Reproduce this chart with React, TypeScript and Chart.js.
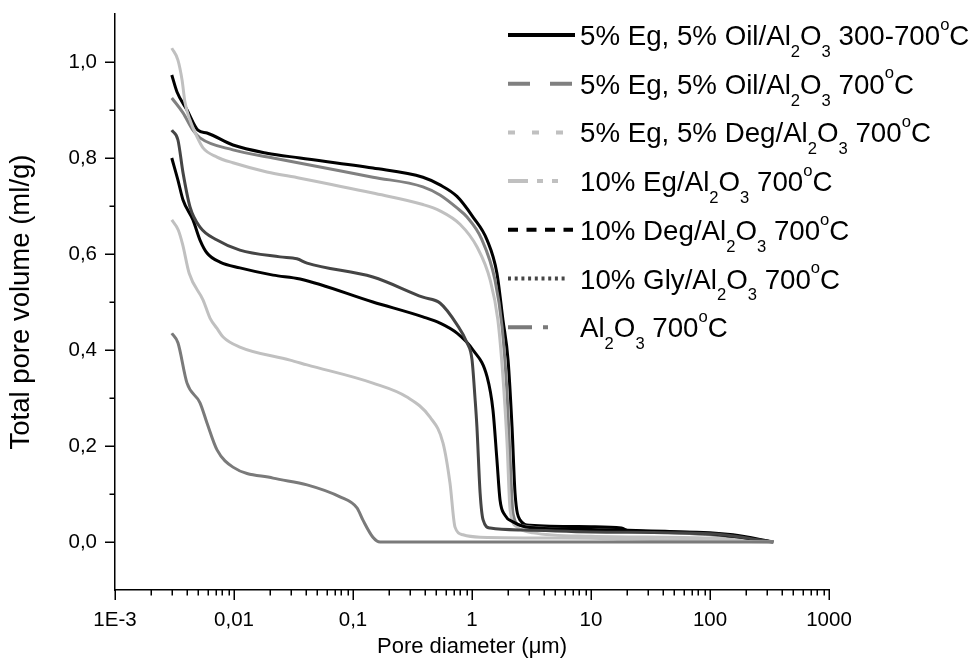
import React, { useEffect, useRef } from "react";
import { Chart, registerables } from "chart.js";

Chart.register(...registerables);

// ---- data (pore diameter in µm, total pore volume in ml/g) ----
const oil300X = [0.003, 0.00332, 0.00403, 0.00498, 0.00593, 0.0098, 0.0189, 0.0359, 0.147, 0.387, 0.538, 0.748, 1.02, 1.34, 1.62, 1.82, 2.01, 2.17, 2.3, 2.53, 3.07, 10, 18, 21, 60, 156, 340];
const oil300Y = [0.973, 0.9375, 0.9, 0.858, 0.852, 0.827, 0.81, 0.8, 0.779, 0.76, 0.744, 0.72, 0.677, 0.629, 0.56, 0.4625, 0.379, 0.24, 0.102, 0.046, 0.035, 0.032, 0.029, 0.023, 0.021, 0.015, 0.0];

const oil700X = [0.003, 0.00373, 0.00452, 0.00518, 0.0098, 0.0213, 0.147, 0.387, 0.538, 0.748, 0.908, 1.2, 1.56, 1.79, 1.97, 2.09, 2.21, 2.53, 10, 100, 340];
const oil700Y = [0.925, 0.894, 0.858, 0.842, 0.817, 0.8, 0.76, 0.74, 0.723, 0.696, 0.677, 0.632, 0.546, 0.448, 0.31, 0.171, 0.06, 0.035, 0.025, 0.015, 0.0];

const degEgX = [0.003, 0.00338, 0.00366, 0.00388, 0.00427, 0.00489, 0.00549, 0.0072, 0.0098, 0.0189, 0.0359, 0.147, 0.387, 0.538, 0.793, 1.1, 1.42, 1.65, 1.82, 1.97, 2.09, 2.39, 3.26, 10, 100, 340];
const degEgY = [1.029, 1.004, 0.9625, 0.915, 0.879, 0.844, 0.821, 0.802, 0.79, 0.771, 0.758, 0.727, 0.703, 0.69, 0.662, 0.615, 0.546, 0.4625, 0.344, 0.206, 0.067, 0.031, 0.019, 0.012, 0.008, 0.0];

const eg10X = [0.003, 0.0034, 0.0037, 0.0042, 0.0055, 0.0063, 0.0072, 0.0081, 0.0112, 0.0296, 0.0411, 0.147, 0.284, 0.444, 0.571, 0.653, 0.72, 0.84, 1.17, 10, 20, 340];
const eg10Y = [0.671, 0.65, 0.62, 0.56, 0.504, 0.466, 0.445, 0.427, 0.406, 0.379, 0.369, 0.331, 0.302, 0.26, 0.206, 0.123, 0.031, 0.015, 0.01, 0.008, 0.006, 0.0];

const deg10X = [0.003, 0.00338, 0.00373, 0.00452, 0.00518, 0.00593, 0.00763, 0.0112, 0.0213, 0.0359, 0.147, 0.387, 0.538, 0.748, 1.02, 1.34, 1.5, 1.62, 1.72, 1.89, 2.21, 3.07, 10, 100, 340];
const deg10Y = [0.8, 0.754, 0.7125, 0.671, 0.629, 0.602, 0.583, 0.571, 0.556, 0.548, 0.5, 0.469, 0.456, 0.435, 0.4, 0.344, 0.275, 0.171, 0.0875, 0.056, 0.042, 0.03, 0.026, 0.017, 0.0];

const gly10X = [0.003, 0.00338, 0.00373, 0.00427, 0.00518, 0.0072, 0.0112, 0.0244, 0.0338, 0.0411, 0.147, 0.387, 0.538, 0.748, 0.908, 1.0, 1.06, 1.1, 1.17, 1.24, 1.42, 2.7, 10, 100, 340];
const gly10Y = [0.858, 0.8375, 0.769, 0.698, 0.656, 0.629, 0.608, 0.594, 0.59, 0.581, 0.552, 0.51, 0.498, 0.453, 0.415, 0.38, 0.3, 0.24, 0.102, 0.046, 0.029, 0.025, 0.021, 0.017, 0.0];

const aluX = [0.003, 0.00338, 0.00403, 0.00518, 0.00593, 0.0072, 0.0098, 0.0213, 0.0411, 0.0778, 0.108, 0.121, 0.147, 0.169, 340];
const aluY = [0.435, 0.415, 0.331, 0.29, 0.248, 0.192, 0.156, 0.133, 0.119, 0.094, 0.071, 0.046, 0.01, 0.0, 0.0];

const seriesLabels = [
  "5% Eg, 5% Oil/Al_2O_3 300-700^oC",
  "5% Eg, 5% Oil/Al_2O_3 700^oC",
  "5% Eg, 5% Deg/Al_2O_3 700^oC",
  "10% Eg/Al_2O_3 700^oC",
  "10% Deg/Al_2O_3 700^oC",
  "10% Gly/Al_2O_3 700^oC",
  "Al_2O_3 700^oC",
];
const seriesX = [oil300X, oil700X, degEgX, eg10X, deg10X, gly10X, aluX];
const seriesY = [oil300Y, oil700Y, degEgY, eg10Y, deg10Y, gly10Y, aluY];

const xTickValues = [0.001, 0.01, 0.1, 1, 10, 100, 1000];
const xTickLabels = ["1E-3", "0,01", "0,1", "1", "10", "100", "1000"];
const yTickValues = [0, 0.2, 0.4, 0.6, 0.8, 1.0];
const yTickLabels = ["0,0", "0,2", "0,4", "0,6", "0,8", "1,0"];
const yMinorValues = [0.1, 0.3, 0.5, 0.7, 0.9];

// ---- styles ----
const colors = ["#000000", "#808080", "#c0c0c0", "#c0c0c0", "#000000", "#454545", "#7a7a7a"];
const legendDash: number[][] = [[], [22, 20], [7, 17], [20, 9, 6, 9], [10, 8.5], [3, 3.7], [24, 11, 6, 50]];
const legendLen = [67, 64, 56, 50, 65, 60, 40];
const FONT = '"Liberation Sans", Arial, sans-serif';

function drawRich(ctx: CanvasRenderingContext2D, text: string, x: number, y: number, size: number) {
  let cx = x;
  let i = 0;
  while (i < text.length) {
    let mode = "n";
    let ch = text[i];
    if (ch === "_" || ch === "^") {
      mode = ch === "_" ? "sub" : "sup";
      ch = text[i + 1];
      i += 2;
    } else {
      let j = i;
      while (j < text.length && text[j] !== "_" && text[j] !== "^") j++;
      ch = text.slice(i, j);
      i = j;
    }
    const fs = mode === "n" ? size : size * 0.6;
    ctx.font = `${fs}px ${FONT}`;
    const dy = mode === "sub" ? size * 0.43 : mode === "sup" ? -size * 0.55 : 0;
    ctx.fillText(ch, cx, y + dy);
    cx += ctx.measureText(ch).width;
  }
}

const originPlugin = {
  id: "originDecor",
  afterDraw(chart: any) {
    const { ctx, chartArea } = chart;
    const xs = chart.scales.x;
    const ys = chart.scales.y;
    ctx.save();
    ctx.strokeStyle = "#000";
    ctx.lineWidth = 1.5;
    ctx.beginPath();
    for (let d = 0; d < xTickValues.length; d++) {
      const v = xTickValues[d];
      const px = Math.round(xs.getPixelForValue(v)) + 0.25;
      ctx.moveTo(px, chartArea.bottom);
      ctx.lineTo(px, chartArea.bottom + 10);
      if (d < xTickValues.length - 1) {
        for (let k = 2; k <= 9; k++) {
          const mp = Math.round(xs.getPixelForValue(v * k)) + 0.25;
          ctx.moveTo(mp, chartArea.bottom);
          ctx.lineTo(mp, chartArea.bottom + 5.5);
        }
      }
    }
    yTickValues.forEach((v) => {
      const py = Math.round(ys.getPixelForValue(v)) + 0.25;
      ctx.moveTo(chartArea.left, py);
      ctx.lineTo(chartArea.left - 10, py);
    });
    yMinorValues.forEach((v) => {
      const py = Math.round(ys.getPixelForValue(v)) + 0.25;
      ctx.moveTo(chartArea.left, py);
      ctx.lineTo(chartArea.left - 5.5, py);
    });
    ctx.stroke();

    // legend
    const lx = 508;
    const ly0 = 35;
    const step = 48.7;
    seriesLabels.forEach((lab, i) => {
      const y = ly0 + i * step;
      ctx.beginPath();
      ctx.setLineDash(legendDash[i]);
      ctx.lineWidth = 4;
      ctx.strokeStyle = colors[i];
      ctx.lineCap = "butt";
      ctx.moveTo(lx, y);
      ctx.lineTo(lx + legendLen[i], y);
      ctx.stroke();
      ctx.setLineDash([]);
      ctx.fillStyle = "#000";
      ctx.textBaseline = "alphabetic";
      ctx.textAlign = "left";
      drawRich(ctx, lab, 580, y + 10, 27.7);
    });
    ctx.restore();
  },
};

export default function App() {
  const ref = useRef<HTMLCanvasElement | null>(null);
  useEffect(() => {
    document.body.style.margin = "0";
    if (!ref.current) return;
    const datasets = seriesLabels.map((lab, i) => ({
      label: lab,
      data: seriesX[i].map((xv, j) => ({ x: xv, y: seriesY[i][j] })),
      borderColor: colors[i],
      backgroundColor: colors[i],
      borderWidth: 3,
      pointRadius: 0,
      fill: false,
      cubicInterpolationMode: "monotone" as const,
    }));
    const order = [6, 3, 5, 4, 2, 1, 0];
    const chart = new Chart(ref.current, {
      type: "line",
      data: { datasets: order.map((k) => datasets[k]) },
      options: {
        animation: false,
        responsive: false,
        layout: { autoPadding: false, padding: { left: 0, top: 14, right: 142, bottom: 0 } },
        plugins: { legend: { display: false }, tooltip: { enabled: false } },
        scales: {
          x: {
            type: "logarithmic",
            min: 0.001,
            max: 1000,
            afterFit: (s: any) => {
              s.height = 76;
              s.paddingLeft = 0;
              s.paddingRight = 0;
            },
            afterBuildTicks: (s: any) => {
              s.ticks = xTickValues.map((v) => ({ value: v, major: true }));
            },
            grid: { display: false, drawTicks: false },
            border: { display: true, color: "#000", width: 1.5 },
            ticks: {
              autoSkip: false,
              maxRotation: 0,
              padding: 18,
              color: "#000",
              font: { family: FONT, size: 20.5 },
              callback: (v: any) => {
                const idx = xTickValues.findIndex((t) => Math.abs(Math.log10(t) - Math.log10(Number(v))) < 1e-6);
                return idx >= 0 ? xTickLabels[idx] : "";
              },
            },
            title: {
              display: true,
              text: "Pore diameter (\u03bcm)",
              color: "#000",
              font: { family: FONT, size: 22 },
              padding: { top: 0, bottom: 6 },
            },
          },
          y: {
            type: "linear",
            min: -0.1,
            max: 1.1,
            bounds: "data",
            afterFit: (s: any) => {
              s.width = 115;
              s.paddingTop = 0;
              s.paddingBottom = 0;
            },
            afterBuildTicks: (s: any) => {
              s.ticks = yTickValues.map((v) => ({ value: v }));
            },
            grid: { display: false, drawTicks: false },
            border: { display: true, color: "#000", width: 1.5 },
            ticks: {
              padding: 18,
              color: "#000",
              font: { family: FONT, size: 20.5 },
              callback: (v: any) => {
                const idx = yTickValues.findIndex((t) => Math.abs(t - Number(v)) < 1e-6);
                return idx >= 0 ? yTickLabels[idx] : "";
              },
            },
            title: {
              display: true,
              text: "Total pore volume (ml/g)",
              color: "#000",
              font: { family: FONT, size: 27.5 },
              padding: { top: 5, bottom: 0 },
            },
          },
        },
      },
      plugins: [originPlugin],
    });
    return () => chart.destroy();
  }, []);
  return (
    <div style={{ width: 971, height: 666, background: "#fff" }}>
      <canvas ref={ref} width={971} height={666} style={{ display: "block" }} />
    </div>
  );
}
